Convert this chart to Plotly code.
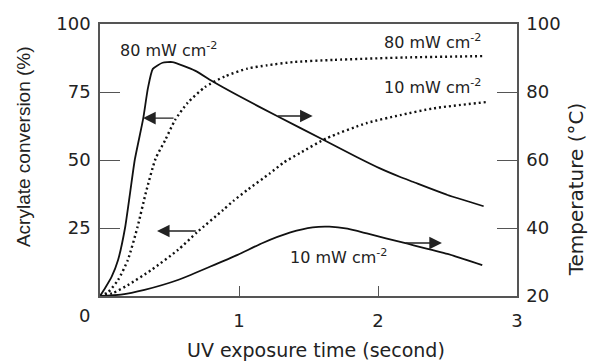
import plotly.graph_objects as go

# Time axis (s) and acrylate conversion (%) — dotted curves, left axis
t_conv_80 = [0, 0.06, 0.13, 0.2, 0.27, 0.33, 0.4, 0.47, 0.54, 0.63, 0.755, 0.9, 1.06, 1.2, 1.39, 1.68, 2.2, 2.76]
conv_80 = [0, 1.5, 5.9, 13.2, 25.4, 38, 50.5, 57.4, 64.7, 71, 76.8, 80.8, 83.6, 84.8, 86, 86.8, 87.7, 88.2]

t_conv_10 = [0, 0.09, 0.2, 0.37, 0.56, 0.7, 0.885, 0.96, 1.06, 1.22, 1.32, 1.44, 1.63, 1.92, 2.16, 2.4, 2.78]
conv_10 = [0, 1, 4, 9.6, 16.9, 23.5, 31.6, 35, 39, 45, 49, 52.6, 58, 63.6, 66.5, 69, 71.3]

# Sample temperature (°C) — solid curves, right axis
t_temp_80 = [0, 0.036, 0.084, 0.13, 0.18, 0.216, 0.25, 0.31, 0.345, 0.38, 0.45, 0.52, 0.683, 0.815, 1.0, 1.27, 1.61, 1.85, 2.01, 2.16, 2.25, 2.5, 2.76]
temp_80 = [20, 22.3, 25.7, 30.6, 40, 50.2, 60, 72, 81.2, 86.8, 88.6, 88.8, 86.3, 83, 78.8, 73, 65.9, 60.8, 57.6, 55, 53.6, 49.7, 46.4]

t_temp_10 = [0, 0.15, 0.32, 0.56, 0.79, 0.99, 1.17, 1.37, 1.53, 1.65, 1.78, 1.92, 2.19, 2.5, 2.75]
temp_10 = [20, 20.4, 21.8, 24.7, 28.6, 32.1, 35.6, 38.7, 40.2, 40.4, 39.8, 38.4, 35.6, 32.4, 29.1]

# Tick labels
x_ticks = [1, 2, 3]
conv_ticks = [0, 25, 50, 75, 100]
temp_ticks = [20, 40, 60, 80, 100]

# Arrows pointing to the axis each curve belongs to: (tail_x, tip_x, y on left axis)
arrows = [
    (0.54, 0.31, 65.4),
    (1.27, 1.53, 66.2),
    (0.70, 0.41, 23.9),
    (2.19, 2.46, 19.5),
]

INK = "#111111"
AXIS = "#555555"
TICK_FONT = dict(family="DejaVu Sans", size=18, color="#222222")
LABEL_FONT = dict(family="DejaVu Sans", size=16, color="#222222")

fig = go.Figure()

fig.add_trace(go.Scatter(x=t_conv_80, y=conv_80, mode="lines", yaxis="y",
                         line=dict(color=INK, width=2.4, dash="2px,3px", shape="spline", smoothing=0.6)))
fig.add_trace(go.Scatter(x=t_conv_10, y=conv_10, mode="lines", yaxis="y",
                         line=dict(color=INK, width=2.4, dash="2px,3px", shape="spline", smoothing=0.6)))
fig.add_trace(go.Scatter(x=t_temp_80, y=temp_80, mode="lines", yaxis="y2",
                         line=dict(color=INK, width=1.8, shape="spline", smoothing=0.5)))
fig.add_trace(go.Scatter(x=t_temp_10, y=temp_10, mode="lines", yaxis="y2",
                         line=dict(color=INK, width=1.8, shape="spline", smoothing=0.5)))

annotations = []
for tail_x, tip_x, y in arrows:
    annotations.append(dict(
        x=tip_x, y=y, ax=tail_x, ay=y, xref="x", yref="y", axref="x", ayref="y",
        text="", showarrow=True, arrowhead=2, arrowsize=1.8, arrowwidth=1.4,
        arrowcolor="#222222", standoff=0, startstandoff=0,
    ))

curve_labels = [
    (0.13, 90.8, "left", "80 mW cm<sup>-2</sup>"),
    (2.755, 93.6, "right", "80 mW cm<sup>-2</sup>"),
    (2.755, 77.0, "right", "10 mW cm<sup>-2</sup>"),
    (1.353, 14.5, "left", "10 mW cm<sup>-2</sup>"),
]
for x, y, anchor, text in curve_labels:
    annotations.append(dict(x=x, y=y, xref="x", yref="y", text=text, showarrow=False,
                            xanchor=anchor, yanchor="middle", font=LABEL_FONT))

# Shared origin label
annotations.append(dict(x=0, y=0, xref="x", yref="y", text="0", showarrow=False,
                        xanchor="center", yanchor="middle", xshift=-16, yshift=-19,
                        font=TICK_FONT))

# Axis titles
annotations.append(dict(x=0.517, y=-0.199, xref="paper", yref="paper",
                        text="UV exposure time (second)", showarrow=False,
                        xanchor="center", yanchor="middle",
                        font=dict(family="DejaVu Sans", size=19, color="#222222")))
annotations.append(dict(x=-0.182, y=0.548, xref="paper", yref="paper",
                        text="Acrylate conversion (%)", showarrow=False, textangle=-90,
                        xanchor="center", yanchor="middle",
                        font=dict(family="Liberation Sans", size=19, color="#222222")))
annotations.append(dict(x=1.142, y=0.393, xref="paper", yref="paper",
                        text="Temperature (°C)", showarrow=False, textangle=-90,
                        xanchor="center", yanchor="middle",
                        font=dict(family="DejaVu Sans", size=20, color="#222222")))

fig.update_layout(
    width=590, height=362,
    margin=dict(l=100, r=73, t=24, b=66),
    paper_bgcolor="white", plot_bgcolor="white",
    showlegend=False,
    annotations=annotations,
    xaxis=dict(range=[0, 3], tickvals=x_ticks, ticks="inside", ticklen=10, tickwidth=1,
               tickcolor=AXIS, showline=True, linecolor=AXIS, linewidth=1.5, mirror=True,
               showgrid=False, zeroline=False, tickfont=TICK_FONT, ticklabelstandoff=8),
    yaxis=dict(range=[0, 100], tickvals=conv_ticks,
               ticktext=["" if v == 0 else str(v) for v in conv_ticks],
               ticks="inside", ticklen=20, tickwidth=1, tickcolor=AXIS,
               showline=True, linecolor=AXIS, linewidth=1.5, mirror=True,
               showgrid=False, zeroline=False, tickfont=TICK_FONT, ticklabelstandoff=4),
    yaxis2=dict(range=[20, 100], tickvals=temp_ticks, overlaying="y", side="right",
                ticks="inside", ticklen=20, tickwidth=1, tickcolor=AXIS,
                showline=True, linecolor=AXIS, linewidth=1.5,
                showgrid=False, zeroline=False, tickfont=TICK_FONT, ticklabelstandoff=4),
)

fig.write_html("out.html")
